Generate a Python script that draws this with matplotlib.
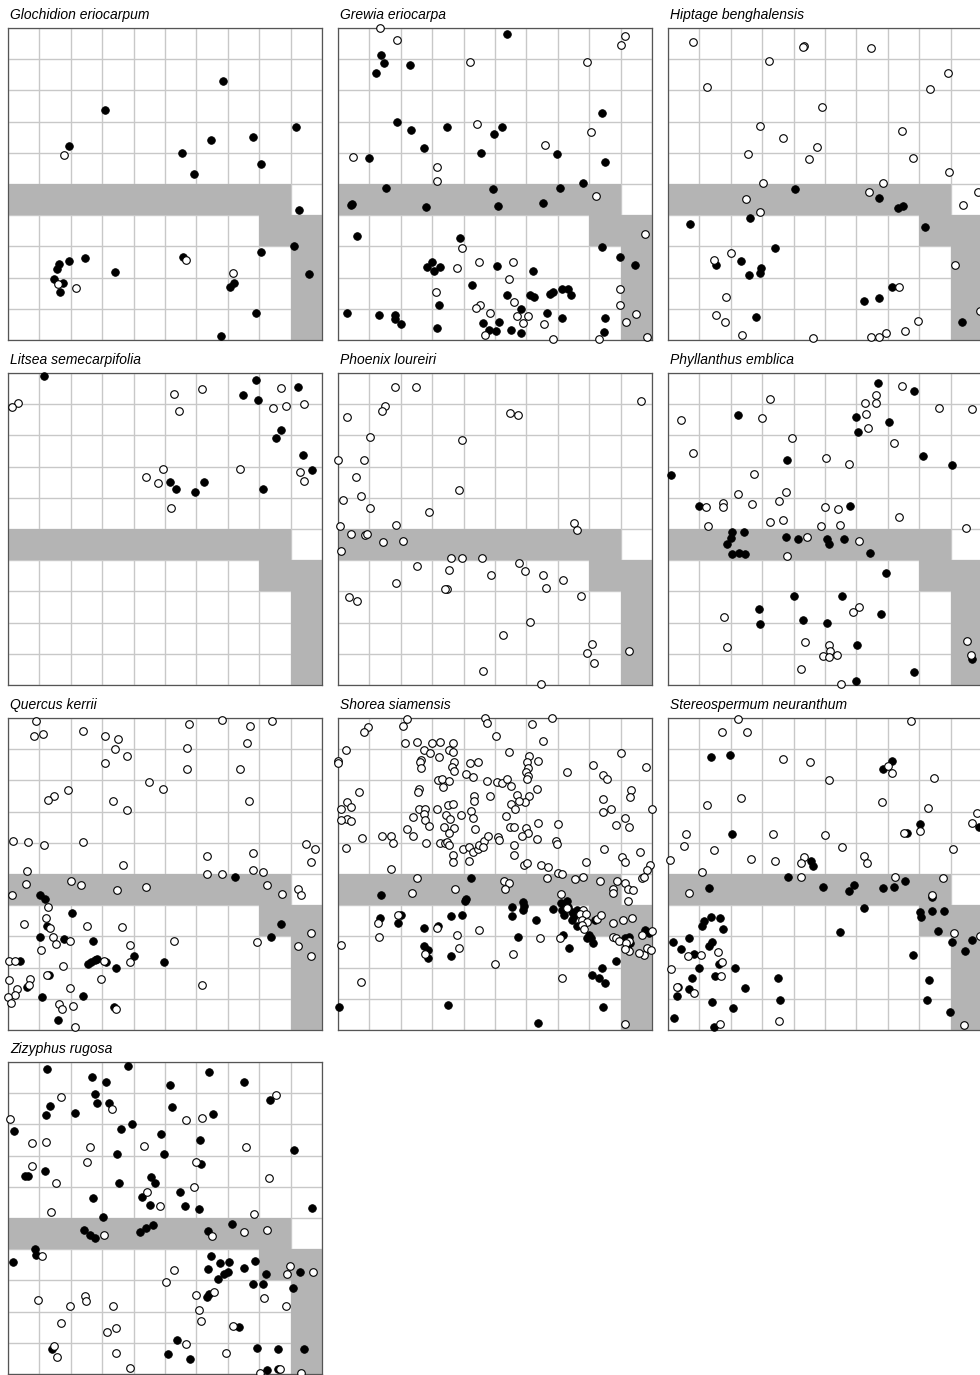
import matplotlib
matplotlib.use("Agg")
import matplotlib.pyplot as plt
from matplotlib.patches import Polygon

plt.rcParams['font.family'] = ['Liberation Sans', 'DejaVu Sans']

# species names, panel order
species = ["Glochidion eriocarpum", "Grewia eriocarpa", "Hiptage benghalensis",
           "Litsea semecarpifolia", "Phoenix loureiri", "Phyllanthus emblica",
           "Quercus kerrii", "Shorea siamensis", "Stereospermum neuranthum",
           "Zizyphus rugosa"]

# shaded zone (plot units)
zone = [(0, 5), (9, 5), (9, 4), (10, 4), (10, 0), (9, 0), (9, 3), (8, 3), (8, 4), (0, 4)]

# ---- point data: (x, y) for filled and open symbols ----
glo_filled = [(6.84, 8.29), (3.10, 7.37), (1.95, 6.23), (9.18, 6.82), (6.47, 6.40), (7.81, 6.50),
              (5.54, 6.00), (8.06, 5.64), (5.92, 5.33), (9.26, 4.17), (9.10, 3.00), (8.06, 2.83),
              (5.58, 2.66), (2.45, 2.64), (1.94, 2.53), (1.64, 2.44), (1.57, 2.27), (3.42, 2.18),
              (1.47, 1.97), (1.74, 1.84), (1.66, 1.54), (7.20, 1.82), (7.07, 1.71), (9.60, 2.11),
              (7.89, 0.88), (6.78, 0.14)]
glo_open = [(1.78, 5.94), (5.66, 2.57), (7.18, 2.16), (2.15, 1.67), (1.59, 1.78)]

gre_filled = [(5.38, 9.82), (1.37, 9.14), (1.48, 8.87), (1.22, 8.57), (2.29, 8.83), (8.42, 7.26),
              (1.87, 6.98), (2.32, 6.72), (3.46, 6.82), (5.22, 6.84), (4.97, 6.61), (2.74, 6.16),
              (4.56, 5.99), (6.99, 5.97), (8.50, 5.69), (1.00, 5.84), (7.80, 5.04), (1.54, 4.86),
              (4.93, 4.84), (7.08, 4.87), (0.46, 4.37), (0.40, 4.33), (2.80, 4.27), (5.11, 4.31),
              (6.54, 4.40), (0.59, 3.33), (3.87, 3.26), (8.40, 2.98), (8.98, 2.67), (9.46, 2.39),
              (2.99, 2.51), (2.85, 2.34), (3.07, 2.22), (3.25, 2.33), (5.05, 2.37), (6.22, 2.20),
              (4.26, 1.76), (5.38, 1.45), (6.11, 1.44), (6.25, 1.39), (6.74, 1.48), (6.84, 1.53),
              (7.13, 1.63), (7.33, 1.63), (7.41, 1.43), (3.22, 1.11), (5.83, 0.98), (0.30, 0.85),
              (1.32, 0.80), (1.82, 0.79), (1.83, 0.66), (2.01, 0.50), (6.67, 0.85), (7.13, 0.72),
              (8.49, 0.69), (4.63, 0.55), (5.14, 0.59), (3.15, 0.37), (4.82, 0.31), (5.04, 0.30),
              (5.52, 0.31), (5.83, 0.24), (8.46, 0.26)]
gre_open = [(1.35, 10.0), (1.87, 9.60), (9.14, 9.74), (9.01, 9.47), (4.21, 8.90), (7.94, 8.90),
            (4.43, 6.93), (8.07, 6.68), (6.59, 6.26), (0.49, 5.86), (3.16, 5.53), (3.14, 5.10),
            (8.22, 4.62), (9.79, 3.39), (3.95, 2.96), (4.49, 2.51), (5.56, 2.51), (3.79, 2.32),
            (5.46, 1.94), (3.13, 1.55), (8.99, 1.64), (5.59, 1.22), (8.99, 1.12), (4.53, 1.13),
            (4.39, 1.02), (4.85, 0.88), (6.04, 0.77), (5.71, 0.76), (9.49, 0.84), (9.17, 0.57),
            (5.89, 0.53), (6.55, 0.52), (4.68, 0.15), (6.86, 0.02), (8.30, 0.04), (9.84, 0.09)]

hip_filled = [(4.04, 4.84), (6.72, 4.56), (7.49, 4.31), (7.31, 4.22), (0.70, 3.72), (2.61, 3.91),
              (8.20, 3.61), (3.42, 2.94), (1.52, 2.41), (2.31, 2.53), (2.97, 2.31), (2.93, 2.14),
              (2.59, 2.09), (7.12, 1.69), (6.71, 1.34), (6.25, 1.26), (2.81, 0.73), (9.36, 0.59)]
hip_open = [(0.79, 9.54), (4.33, 9.41), (4.29, 9.40), (6.48, 9.36), (3.21, 8.94), (8.93, 8.55),
            (1.25, 8.11), (8.34, 8.06), (4.92, 7.46), (2.94, 6.85), (3.66, 6.47), (7.46, 6.70),
            (4.73, 6.19), (2.55, 5.97), (4.48, 5.80), (7.81, 5.83), (8.96, 5.37), (3.01, 5.02),
            (6.86, 5.02), (6.40, 4.73), (2.48, 4.52), (2.93, 4.10), (9.86, 4.74), (9.38, 4.33),
            (2.01, 2.80), (1.48, 2.57), (9.15, 2.39), (7.35, 1.69), (1.84, 1.37), (1.53, 0.81),
            (1.80, 0.57), (7.95, 0.61), (7.54, 0.30), (6.95, 0.23), (6.71, 0.09), (6.48, 0.09),
            (4.61, 0.07), (2.36, 0.17), (9.94, 0.94)]

lit_filled = [(1.14, 9.89), (7.90, 9.78), (7.47, 9.28), (7.97, 9.12), (9.23, 9.56), (8.70, 8.16),
              (8.55, 7.93), (9.40, 7.36), (9.69, 6.89), (5.17, 6.50), (5.34, 6.27), (5.96, 6.18),
              (6.25, 6.51), (8.11, 6.29)]
lit_open = [(0.33, 9.05), (0.14, 8.90), (5.30, 9.34), (6.18, 9.50), (5.46, 8.79), (8.71, 9.51),
            (8.44, 8.88), (8.85, 8.95), (9.42, 9.00), (4.94, 6.91), (4.38, 6.66), (4.79, 6.47),
            (5.19, 5.67), (7.40, 6.91), (9.29, 6.83), (9.42, 6.53)]

pho_filled = []
pho_open = [(1.83, 9.55), (2.47, 9.54), (1.51, 8.93), (1.41, 8.78), (0.30, 8.58), (5.48, 8.71),
            (5.74, 8.65), (9.66, 9.09), (1.02, 7.95), (3.96, 7.84), (0.01, 7.21), (0.82, 7.21),
            (0.56, 6.67), (3.84, 6.25), (0.16, 5.93), (0.72, 6.05), (1.01, 5.68), (2.90, 5.54),
            (0.06, 5.09), (1.86, 5.12), (7.53, 5.19), (7.60, 4.97), (0.42, 4.85), (0.85, 4.81),
            (0.91, 4.83), (1.44, 4.58), (2.07, 4.63), (0.10, 4.29), (3.59, 4.06), (3.94, 4.06),
            (4.58, 4.08), (2.51, 3.82), (3.55, 3.68), (4.86, 3.54), (5.76, 3.90), (5.96, 3.65),
            (6.53, 3.51), (7.15, 3.37), (1.86, 3.27), (3.46, 3.08), (3.40, 3.07), (6.61, 3.12),
            (0.34, 2.83), (0.62, 2.69), (7.74, 2.84), (6.13, 2.03), (5.24, 1.60), (8.08, 1.30),
            (7.94, 1.03), (8.16, 0.69), (9.27, 1.08), (4.63, 0.45), (6.48, 0.03)]

phy_filled = [(6.70, 9.69), (7.85, 9.42), (2.22, 8.65), (6.00, 8.59), (7.04, 8.44), (6.06, 8.11),
              (3.79, 7.20), (8.12, 7.34), (9.06, 7.05), (0.10, 6.73), (1.00, 5.75), (5.79, 5.73),
              (2.05, 4.89), (2.42, 4.89), (2.01, 4.72), (1.87, 4.51), (2.05, 4.20), (2.26, 4.24),
              (2.45, 4.19), (3.75, 4.75), (4.13, 4.68), (5.05, 4.67), (5.14, 4.51), (5.59, 4.67),
              (6.44, 4.24), (6.93, 3.60), (4.01, 2.84), (5.53, 2.86), (2.90, 2.43), (6.78, 2.26),
              (2.92, 1.96), (4.30, 2.08), (5.07, 2.00), (6.03, 1.29), (9.69, 0.82), (7.85, 0.43),
              (5.99, 0.13)]
phy_open = [(7.46, 9.57), (6.64, 9.28), (6.28, 9.04), (6.64, 9.04), (6.29, 8.69), (6.36, 8.24),
            (3.26, 9.16), (0.40, 8.50), (3.00, 8.55), (8.62, 8.88), (9.69, 8.84), (3.96, 7.91),
            (7.21, 7.75), (0.79, 7.45), (5.02, 7.29), (5.77, 7.07), (2.75, 6.76), (3.75, 6.19),
            (2.23, 6.12), (3.55, 5.89), (1.74, 5.83), (1.75, 5.72), (1.22, 5.69), (2.66, 5.79),
            (5.01, 5.71), (5.40, 5.65), (7.37, 5.40), (1.26, 5.10), (3.24, 5.22), (3.66, 5.29),
            (4.87, 5.09), (5.47, 5.13), (9.48, 5.04), (4.43, 4.73), (6.07, 4.63), (3.78, 4.12),
            (6.08, 2.49), (5.89, 2.35), (1.78, 2.19), (1.89, 1.21), (4.37, 1.37), (5.13, 1.28),
            (5.17, 1.09), (4.95, 0.94), (5.13, 0.91), (5.38, 0.96), (9.52, 1.40), (9.66, 0.96),
            (4.25, 0.51), (5.51, 0.03)]

que_filled = [(7.24, 4.89), (1.02, 4.34), (1.17, 4.21), (2.04, 3.74), (1.23, 3.34), (8.69, 3.39),
              (8.38, 2.99), (1.02, 2.98), (1.79, 2.91), (2.71, 2.84), (0.37, 2.22), (4.02, 2.38),
              (2.55, 2.12), (2.65, 2.17), (2.76, 2.23), (2.85, 2.26), (3.11, 2.19), (3.44, 1.98),
              (4.98, 2.17), (1.30, 1.77), (0.61, 1.37), (1.08, 1.05), (2.38, 1.09), (3.36, 0.75),
              (1.60, 0.32)]
que_open = [(0.88, 9.90), (0.84, 9.42), (1.11, 9.50), (2.38, 9.57), (3.08, 9.41), (3.49, 9.34),
            (3.40, 9.01), (3.80, 8.78), (3.08, 8.55), (5.76, 9.82), (6.81, 9.95), (7.71, 9.73),
            (8.41, 9.91), (5.69, 9.04), (7.62, 9.20), (5.69, 8.37), (7.38, 8.37), (4.49, 7.96),
            (4.94, 7.72), (1.92, 7.69), (1.45, 7.51), (1.26, 7.37), (3.35, 7.33), (3.79, 7.06),
            (7.66, 7.35), (0.16, 6.07), (0.63, 6.01), (1.15, 5.94), (2.38, 6.03), (9.48, 5.95),
            (9.78, 5.80), (9.66, 5.37), (7.80, 5.66), (6.35, 5.57), (3.65, 5.28), (0.59, 5.10),
            (6.34, 5.00), (6.81, 5.00), (7.80, 5.12), (8.13, 5.06), (0.56, 4.68), (2.00, 4.79),
            (2.32, 4.64), (3.46, 4.48), (4.41, 4.59), (8.24, 4.65), (8.72, 4.37), (9.24, 4.52),
            (9.33, 4.34), (0.13, 4.33), (1.27, 3.95), (1.20, 3.59), (1.33, 3.28), (0.51, 3.40),
            (2.51, 3.32), (3.64, 3.30), (9.66, 3.11), (1.43, 2.97), (1.53, 2.75), (1.96, 2.84),
            (1.04, 2.55), (3.89, 2.71), (5.28, 2.84), (7.94, 2.82), (9.25, 2.70), (9.65, 2.37),
            (0.04, 2.22), (0.23, 2.22), (3.07, 2.22), (3.87, 2.19), (1.74, 2.05), (1.23, 1.77),
            (2.97, 1.62), (0.70, 1.62), (0.68, 1.44), (0.28, 1.32), (0.04, 1.59), (0.22, 1.13),
            (0.00, 1.07), (0.11, 0.88), (1.98, 1.34), (1.62, 0.84), (1.72, 0.66), (2.06, 0.76),
            (3.43, 0.67), (6.17, 1.45), (2.12, 0.09)]

sho_filled = [(4.25, 4.88), (1.36, 4.32), (4.09, 4.21), (4.06, 4.13), (1.33, 3.59), (2.00, 3.68),
              (1.90, 3.42), (2.75, 3.28), (3.17, 3.33), (3.60, 3.64), (3.95, 3.68), (2.74, 2.69),
              (2.86, 2.57), (2.88, 2.30), (3.59, 2.37), (0.03, 0.75), (3.51, 0.80),
              (5.90, 4.10), (5.93, 3.97), (5.88, 3.86), (5.54, 3.95), (5.55, 3.65), (6.29, 3.53),
              (6.84, 3.88), (7.09, 4.06), (7.28, 4.13), (7.14, 3.85), (7.20, 3.68), (7.32, 3.95),
              (7.44, 3.78), (7.44, 3.53), (7.60, 3.85), (7.53, 3.64), (7.62, 3.33), (8.17, 3.53),
              (7.99, 3.04), (8.06, 2.95), (7.94, 2.94), (8.13, 2.78), (7.18, 3.05), (7.37, 2.64),
              (5.73, 2.99), (8.84, 2.21), (8.41, 2.00), (8.10, 1.76), (8.30, 1.68), (8.50, 1.50),
              (8.45, 0.75), (6.37, 0.24), (9.14, 2.96), (9.28, 2.99), (9.19, 2.69), (9.30, 2.78),
              (9.79, 3.21), (9.92, 3.12)]
sho_open = [(2.19, 9.97), (2.06, 9.74), (0.97, 9.70), (0.82, 9.55), (4.68, 10.0), (4.73, 9.85),
            (0.24, 8.97), (0.00, 8.63), (0.00, 8.56), (2.14, 9.21), (2.53, 9.22), (2.75, 8.96),
            (2.94, 8.87), (2.98, 9.19), (3.26, 9.23), (3.66, 9.19), (3.55, 8.97), (3.66, 8.91),
            (3.23, 8.74), (2.64, 8.64), (2.61, 8.59), (2.65, 8.40), (3.71, 8.59), (3.63, 8.42),
            (3.68, 8.30), (4.19, 8.55), (4.45, 8.59), (4.08, 8.22), (4.29, 8.12), (3.17, 8.00),
            (3.30, 8.06), (3.54, 7.99), (3.33, 7.78), (4.73, 7.99), (2.58, 7.73), (2.54, 7.63),
            (0.67, 7.62), (4.34, 7.49), (4.33, 7.34), (4.85, 7.49), (0.30, 7.30), (0.10, 7.08),
            (0.40, 7.14), (0.28, 6.77), (0.10, 6.73), (0.40, 6.71), (2.59, 7.09), (2.77, 7.09),
            (3.16, 7.08), (3.49, 7.21), (3.65, 7.23), (2.75, 6.91), (2.38, 6.84), (2.77, 6.72),
            (2.91, 6.53), (3.43, 6.88), (3.58, 6.75), (3.93, 6.90), (4.25, 7.02), (4.30, 6.79),
            (4.37, 6.43), (3.39, 6.51), (3.68, 6.47), (3.54, 6.31), (2.21, 6.45), (2.38, 6.23),
            (0.77, 6.16), (1.41, 6.21), (1.68, 6.21), (1.75, 5.99), (0.24, 5.83), (2.80, 5.98),
            (3.24, 5.98), (3.41, 5.98), (3.46, 6.03), (3.55, 5.92), (3.98, 5.80), (4.18, 5.88),
            (4.29, 5.72), (4.45, 5.81), (4.50, 5.92), (4.64, 6.05), (4.77, 6.21), (4.62, 5.88),
            (3.67, 5.62), (3.67, 5.37), (4.17, 5.41), (1.68, 5.17), (2.51, 4.86), (2.36, 4.40),
            (3.74, 4.52), (0.11, 2.71), (1.32, 2.99), (1.28, 3.44), (1.92, 3.69), (3.15, 3.28),
            (3.80, 3.06), (3.85, 2.64), (2.78, 2.44), (4.48, 3.22), (0.74, 1.54),
            (6.80, 9.99), (6.19, 9.82), (5.04, 9.42), (6.52, 9.26), (5.45, 8.91), (6.08, 8.78),
            (6.38, 8.62), (6.03, 8.59), (6.04, 8.39), (5.98, 8.27), (6.06, 8.13), (6.01, 8.04),
            (7.28, 8.27), (8.12, 8.48), (8.45, 8.18), (8.56, 8.06), (9.00, 8.88), (9.82, 8.42),
            (5.05, 7.96), (5.23, 7.91), (5.37, 8.06), (5.51, 7.81), (6.34, 7.74), (5.69, 7.54),
            (6.07, 7.50), (5.94, 7.32), (5.77, 7.33), (5.51, 7.23), (5.63, 7.08), (9.34, 7.68),
            (9.30, 7.47), (8.43, 7.39), (8.43, 6.98), (8.69, 7.09), (10.0, 7.09), (5.36, 6.85),
            (5.49, 6.51), (5.62, 6.52), (5.99, 6.47), (6.05, 6.32), (5.87, 6.23), (6.37, 6.65),
            (6.35, 6.13), (7.01, 6.59), (6.95, 6.07), (6.96, 5.96), (5.08, 6.20), (5.14, 6.10),
            (5.60, 5.92), (5.62, 5.60), (8.84, 6.57), (9.15, 6.81), (9.28, 6.52), (8.47, 5.79),
            (9.04, 5.56), (9.15, 5.40), (9.63, 5.69), (7.89, 5.40), (5.92, 5.29), (6.03, 5.34),
            (6.45, 5.28), (6.70, 5.21), (7.00, 5.04), (7.13, 5.00), (6.67, 4.88), (7.54, 4.85),
            (7.81, 4.89), (8.33, 4.78), (8.88, 4.79), (9.95, 5.30), (9.85, 5.13), (9.68, 4.88),
            (9.73, 4.89), (5.30, 4.76), (5.43, 4.71), (5.31, 4.51), (8.77, 4.52), (8.76, 4.39),
            (9.15, 4.72), (9.22, 4.51), (9.39, 4.50), (9.25, 4.15), (7.10, 4.36), (7.28, 3.90),
            (7.81, 3.85), (7.71, 3.72), (7.90, 3.71), (7.76, 3.54), (7.92, 3.47), (7.77, 3.35),
            (7.85, 3.25), (8.24, 3.55), (8.38, 3.68), (8.77, 3.42), (9.09, 3.54), (9.36, 3.60),
            (10.0, 3.18), (9.67, 3.03), (8.77, 2.99), (8.85, 2.96), (8.95, 2.86), (9.28, 2.86),
            (9.17, 2.79), (9.28, 2.54), (9.14, 2.61), (9.73, 2.40), (9.85, 2.62), (9.97, 2.56),
            (9.58, 2.47), (6.43, 2.95), (7.07, 2.94), (5.56, 2.43), (5.00, 2.12), (7.12, 1.67),
            (9.14, 0.19)]

ste_filled = [(1.36, 8.76), (1.97, 8.81), (7.14, 8.62), (6.86, 8.35), (8.03, 6.59), (7.60, 6.30),
              (9.92, 6.51), (2.03, 6.27), (4.55, 5.42), (4.63, 5.26), (3.82, 4.90), (4.94, 4.57),
              (5.76, 4.45), (5.91, 4.66), (6.84, 4.54), (7.21, 4.57), (7.55, 4.79), (1.32, 4.54),
              (8.40, 4.25), (6.25, 3.90), (8.01, 3.77), (8.07, 3.61), (8.40, 3.80), (8.78, 3.81),
              (8.59, 3.18), (9.06, 2.82), (9.69, 2.90), (9.45, 2.54), (5.47, 3.13), (7.80, 2.39),
              (8.30, 1.61), (8.26, 0.96), (8.98, 0.59), (1.37, 3.62), (1.67, 3.59), (1.14, 3.50),
              (1.08, 3.34), (1.76, 3.23), (0.68, 2.94), (0.17, 2.81), (0.41, 2.60), (1.39, 2.83),
              (1.32, 2.69), (0.84, 2.43), (1.00, 2.00), (1.64, 2.10), (2.13, 1.98), (1.49, 1.74),
              (0.78, 1.67), (0.32, 1.38), (0.67, 1.30), (0.30, 1.08), (2.45, 1.36), (1.41, 0.90),
              (2.08, 0.71), (3.50, 1.67), (3.58, 0.97), (0.20, 0.40), (1.48, 0.10)]
ste_open = [(2.24, 9.96), (1.72, 9.55), (2.51, 9.55), (7.75, 9.91), (3.65, 8.68), (4.53, 8.60),
            (7.01, 8.46), (7.12, 8.25), (5.13, 8.01), (8.48, 8.07), (2.31, 7.44), (1.25, 7.20),
            (6.83, 7.30), (8.29, 7.12), (9.85, 6.94), (9.68, 6.63), (0.58, 6.29), (3.33, 6.29),
            (5.00, 6.26), (7.53, 6.32), (8.01, 6.38), (0.52, 5.89), (1.46, 5.76), (5.53, 5.85),
            (9.07, 5.81), (0.07, 5.45), (2.65, 5.47), (3.41, 5.43), (4.33, 5.54), (4.23, 5.36),
            (6.25, 5.57), (6.34, 5.36), (1.09, 5.07), (4.23, 4.89), (7.23, 4.89), (8.77, 4.88),
            (0.67, 4.38), (8.42, 4.33), (9.12, 3.12), (9.93, 3.00), (0.65, 2.38), (1.06, 2.41),
            (1.58, 2.51), (1.73, 2.18), (1.70, 1.74), (0.10, 1.96), (0.29, 1.37), (0.84, 1.19),
            (1.67, 0.20), (3.55, 0.29), (9.44, 0.15)]

ziz_filled = [(1.24, 9.76), (3.83, 9.87), (2.69, 9.51), (3.11, 9.35), (6.41, 9.69), (7.52, 9.36),
              (5.16, 9.27), (2.76, 8.98), (2.84, 8.69), (3.22, 8.69), (1.33, 8.60), (1.21, 8.31),
              (2.12, 8.38), (5.22, 8.56), (6.52, 8.32), (8.34, 8.78), (0.18, 7.78), (3.94, 8.01),
              (3.59, 7.84), (4.88, 7.69), (6.11, 7.50), (3.46, 7.04), (4.98, 7.04), (9.12, 7.18),
              (0.53, 6.36), (0.63, 6.36), (1.17, 6.52), (6.15, 6.73), (4.55, 6.31), (4.68, 6.13),
              (3.52, 6.12), (2.72, 5.65), (4.27, 5.68), (4.51, 5.43), (5.49, 5.82), (5.65, 5.37),
              (6.08, 5.30), (9.68, 5.33), (3.01, 5.02), (2.43, 4.61), (2.60, 4.45), (2.77, 4.36),
              (4.20, 4.56), (4.40, 4.69), (4.63, 4.76), (6.38, 4.59), (7.14, 4.80), (0.85, 4.02),
              (0.90, 3.81), (0.16, 3.60), (6.47, 3.79), (6.76, 3.55), (7.04, 3.59), (6.38, 3.38),
              (6.89, 3.20), (7.02, 3.26), (6.69, 3.04), (7.53, 3.41), (7.87, 3.62), (8.23, 3.19),
              (7.79, 2.90), (8.12, 2.89), (9.31, 3.26), (9.07, 2.77), (6.33, 2.48), (6.40, 2.57),
              (7.37, 1.51), (5.39, 1.10), (1.41, 0.79), (5.11, 0.65), (5.80, 0.47), (7.94, 0.84),
              (8.61, 0.80), (9.44, 0.81), (8.26, 0.12), (8.61, 0.16)]
ziz_open = [(0.07, 8.18), (1.69, 8.87), (3.30, 8.48), (5.66, 8.15), (6.17, 8.20), (8.53, 8.95),
            (0.75, 7.40), (1.22, 7.45), (2.60, 7.27), (4.32, 7.32), (7.59, 7.29), (0.75, 6.68),
            (2.53, 6.80), (6.00, 6.78), (1.52, 6.11), (8.32, 6.27), (4.43, 5.82), (5.92, 6.00),
            (4.83, 5.38), (1.38, 5.19), (7.82, 5.13), (3.07, 4.45), (6.51, 4.41), (7.50, 4.56),
            (8.24, 4.62), (1.08, 3.77), (5.30, 3.33), (5.02, 2.94), (8.98, 3.46), (8.87, 3.22),
            (9.71, 3.27), (6.55, 2.62), (5.99, 2.52), (0.96, 2.38), (1.99, 2.19), (2.46, 2.50),
            (2.48, 2.35), (3.34, 2.18), (8.14, 2.45), (8.84, 2.19), (6.08, 2.05), (6.15, 1.69),
            (7.16, 1.54), (1.68, 1.63), (3.45, 1.48), (3.14, 1.35), (5.66, 0.95), (1.45, 0.91),
            (1.56, 0.56), (3.44, 0.68), (6.95, 0.67), (3.88, 0.19), (8.02, 0.04), (8.66, 0.17),
            (9.33, 0.04)]

filled_sets = [glo_filled, gre_filled, hip_filled, lit_filled, pho_filled,
               phy_filled, que_filled, sho_filled, ste_filled, ziz_filled]
open_sets = [glo_open, gre_open, hip_open, lit_open, pho_open,
             phy_open, que_open, sho_open, ste_open, ziz_open]

W, H = 980, 1375
fig = plt.figure(figsize=(W / 100, H / 100), dpi=100)

col_left = [8, 338, 668]
row_top = [28, 373, 718, 1062]
pw, ph = 314, 312

for i, name in enumerate(species):
    r, c = divmod(i, 3)
    ax = fig.add_axes([col_left[c] / W, 1 - (row_top[r] + ph) / H, pw / W, ph / H])
    ax.set_xlim(0, 10)
    ax.set_ylim(0, 10)
    ax.set_xticks(range(11))
    ax.set_yticks(range(11))
    ax.tick_params(length=0, labelbottom=False, labelleft=False)
    ax.grid(True, color='#c8c8c8', linewidth=1.0)
    ax.set_axisbelow(True)
    for s in ax.spines.values():
        s.set_color('#555555')
        s.set_linewidth(0.9)
    ax.add_patch(Polygon(zone, closed=True, facecolor='#b4b4b4', edgecolor='none', zorder=1.5))

    f = filled_sets[i]
    o = open_sets[i]
    if f:
        ax.scatter([p[0] for p in f], [p[1] for p in f], s=30, c='black',
                   edgecolors='black', linewidths=0.6, zorder=3, clip_on=False)
    if o:
        ax.scatter([p[0] for p in o], [p[1] for p in o], s=30, c='white',
                   edgecolors='black', linewidths=0.8, zorder=4, clip_on=False)
    ax.text(0.006, 1.0, name, transform=ax.transAxes, style='italic', fontsize=10,
            ha='left', va='bottom', position=(0.006, 1.018))

fig.savefig("out.png", dpi=100)
